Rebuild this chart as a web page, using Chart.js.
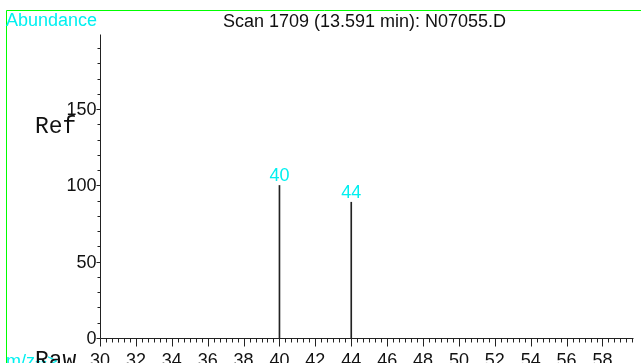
<!DOCTYPE html>
<html>
<head>
<meta charset="utf-8">
<script src="https://cdn.jsdelivr.net/npm/chart.js@4/dist/chart.umd.min.js"></script>
<style>
html,body{margin:0;padding:0;background:#fff;}
#wrap{width:641px;height:363px;position:relative;}
</style>
</head>
<body>
<div id="wrap"><canvas id="c" width="641" height="363"></canvas></div>
<script>
// ---- data ----
const mzValues = [40, 44];
const abundances = [100, 89];
const peakLabels = ['40', '44'];
const xTickLabels = [30, 32, 34, 36, 38, 40, 42, 44, 46, 48, 50, 52, 54, 56, 58];
const yTickLabels = [0, 50, 100, 150];
const titleText = 'Scan 1709 (13.591 min): N07055.D';
const yAxisTitle = 'Abundance';
const xAxisTitle = 'm/z-->';
const refLabel = 'Ref';
const rawLabel = 'Raw';
const xMin = 30, xMax = 59.7, yMin = 0, yMax = 199.3;

const SANS = '"Liberation Sans", Arial, sans-serif';
const MONO = '"Courier New", "Liberation Mono", monospace';
const CYAN = '#00f0f0';

const decor = {
  id: 'decor',
  afterDraw(chart) {
    const ctx = chart.ctx;
    const xs = chart.scales.x, ys = chart.scales.y;
    const ca = chart.chartArea;
    ctx.save();
    // green frame
    ctx.strokeStyle = '#00ff00';
    ctx.lineWidth = 1;
    ctx.beginPath();
    ctx.moveTo(6.5, 400); ctx.lineTo(6.5, 10.5); ctx.lineTo(700, 10.5);
    ctx.stroke();

    // axes lines
    ctx.strokeStyle = '#222';
    ctx.lineWidth = 1;
    const x0 = Math.round(xs.getPixelForValue(xMin)) + 0.5;
    const yb = Math.round(ys.getPixelForValue(0)) + 0.5;
    ctx.beginPath();
    ctx.moveTo(x0, Math.round(ca.top) + 0.5); ctx.lineTo(x0, yb);
    ctx.lineTo(Math.round(ca.right) + 0.5, yb);
    ctx.stroke();

    // y ticks (minor every 10, major every 50)
    ctx.beginPath();
    for (let v = 0; v <= yMax; v += 10) {
      const py = Math.round(ys.getPixelForValue(v)) + 0.5;
      const len = (v % 50 === 0) ? 4 : 3;
      ctx.moveTo(x0 - len, py); ctx.lineTo(x0, py);
    }
    // x ticks (minor every 1/3, major every 2)
    for (let i = 0; 30 + i / 3 <= xMax + 1e-6; i++) {
      const v = 30 + i / 3;
      const px = Math.round(xs.getPixelForValue(v)) + 0.5;
      const len = (i % 6 === 0) ? 8 : 4;
      ctx.moveTo(px, yb); ctx.lineTo(px, yb + len);
    }
    ctx.stroke();

    // tick labels
    ctx.fillStyle = '#111';
    ctx.font = '18px ' + SANS;
    ctx.textAlign = 'right';
    ctx.textBaseline = 'middle';
    yTickLabels.forEach(v => {
      ctx.fillText(String(v), x0 - 4, ys.getPixelForValue(v) + 1);
    });
    ctx.textAlign = 'center';
    ctx.textBaseline = 'alphabetic';
    xTickLabels.forEach(v => {
      ctx.fillText(String(v), xs.getPixelForValue(v), 366);
    });

    // title
    ctx.textAlign = 'center';
    ctx.fillText(titleText, 364.5, 27);

    // axis titles
    ctx.textAlign = 'left';
    ctx.fillStyle = CYAN;
    ctx.fillText(yAxisTitle, 6, 26);
    ctx.fillText(xAxisTitle, 6, 367);

    ctx.fillStyle = '#111';
    ctx.font = '23px ' + MONO;
    ctx.fillText(refLabel, 35, 133);
    ctx.fillText(rawLabel, 35, 367);

    // peak labels
    ctx.fillStyle = CYAN;
    ctx.font = '18px ' + SANS;
    ctx.textAlign = 'center';
    const meta = chart.getDatasetMeta(0);
    meta.data.forEach((el, i) => {
      ctx.fillText(peakLabels[i], el.x, el.y - 4);
    });
    ctx.restore();
  }
};

new Chart(document.getElementById('c'), {
  type: 'bar',
  data: {
    datasets: [{
      data: mzValues.map((m, i) => ({ x: m, y: abundances[i] })),
      backgroundColor: '#222',
      borderWidth: 0,
      barThickness: 1
    }]
  },
  options: {
    responsive: false,
    animation: false,
    devicePixelRatio: 1,
    layout: { padding: { left: 100, top: 34, right: 8, bottom: 25 } },
    plugins: { legend: { display: false }, tooltip: { enabled: false }, title: { display: false } },
    scales: {
      x: { type: 'linear', min: xMin, max: xMax, display: false, offset: false },
      y: { type: 'linear', min: yMin, max: yMax, display: false }
    }
  },
  plugins: [decor]
});
</script>
</body>
</html>
